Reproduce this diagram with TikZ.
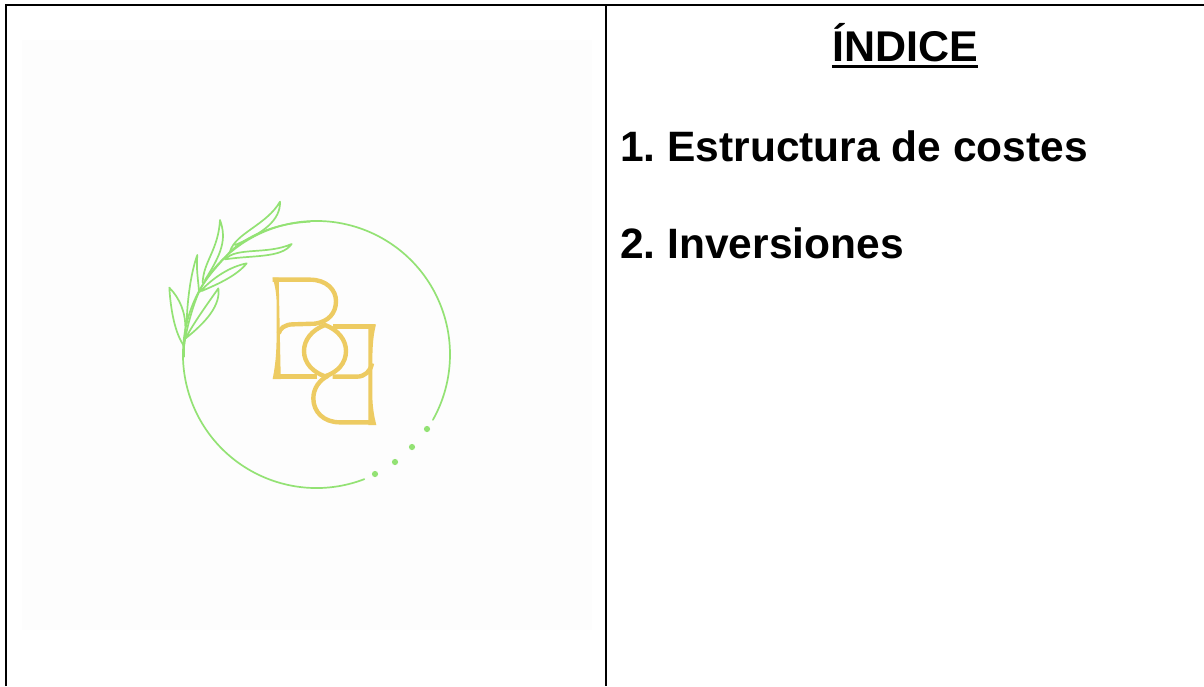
\documentclass[tikz,border=0pt]{standalone}
\usepackage{fontspec}
\setmainfont{Liberation Sans}
\frenchspacing
\definecolor{leafgreen}{HTML}{93E274}
\definecolor{logogold}{HTML}{EDCB62}
\definecolor{paleback}{HTML}{FDFDFD}
\tikzset{
  rulebar/.style={draw=black,line width=2.5pt},
  leafline/.style={draw=leafgreen,line width=1.7pt,line join=round,line cap=round},
  goldline/.style={draw=logogold,line width=4.4pt,line join=miter},
  dotmark/.style={fill=leafgreen,draw=none},
  indexline/.style={anchor=base west,inner sep=0pt,font=\fontsize{42.5}{42.5}\selectfont\bfseries}
}
\begin{document}
\begin{tikzpicture}[x=1pt,y=-1pt]
\useasboundingbox (0,0) rectangle (1204,686);
\fill[white] (0,0) rectangle (1204,686);
\fill[paleback] (22,40) rectangle (592,630);
% frame
\draw[rulebar] (6.2,686) -- (6.2,5.2) -- (1204,5.2);
\draw[rulebar] (606.2,5.2) -- (606.2,686);
% texts
\node[indexline,anchor=base,font=\fontsize{43}{43}\selectfont\bfseries] (title) at (905,61.5) {ÍNDICE};
\draw[line width=2.8pt] (title.base west |- 0,66.5) -- (title.base east |- 0,66.5);
\node[indexline] (item1) at (620,161) {1. Estructura de costes};
\node[indexline] (item2) at (620,258) {2. Inversiones};
% circle with gap
\draw[leafline] (316.5,354.5) ++(69:133.5) arc[start angle=69,end angle=389.3,radius=133.5];
% dots
\foreach \px/\py in {375/474, 395/462, 412/447, 427/429}{
  \fill[dotmark] (\px,\py) circle[radius=3.1];
}
% branch and leaves (zoom coordinates)
\begin{scope}[shift={(150,190)},x=0.33333pt,y=-0.33333pt]
  \draw[leafline] (102,500) -- (102,470) .. controls (108,420) and (130,340) .. (150,300)
     .. controls (170,260) and (210,220) .. (240,185) .. controls (290,140) and (370,100) .. (480,95);
  % leaf 1
  \draw[leafline] (102,468) .. controls (75,430) and (62,360) .. (58,293)
     .. controls (90,325) and (108,370) .. (106,420) -- (102,468);
  % leaf 2
  \draw[leafline] (110,400) .. controls (112,320) and (125,240) .. (142,195)
     .. controls (138,240) and (145,270) .. (147,305);
  % leaf 3
  \draw[leafline] (107,445) .. controls (130,400) and (170,345) .. (205,295)
     .. controls (212,345) and (170,395) .. (107,445);
  % leaf 4
  \draw[leafline] (158,278) .. controls (160,215) and (205,180) .. (210,90)
     .. controls (232,150) and (212,195) .. (165,270);
  % leaf 5
  \draw[leafline] (150,305) .. controls (190,262) and (240,230) .. (290,220)
     .. controls (262,255) and (210,280) .. (155,303);
  % leaf 6
  \draw[leafline] (225,208) .. controls (260,170) and (350,195) .. (425,162)
     .. controls (395,205) and (310,195) .. (225,208);
  % leaf 7
  \draw[leafline] (240,185) .. controls (255,130) and (350,105) .. (390,35)
     .. controls (392,90) and (340,130) .. (255,165);
\end{scope}
% monogram (zoom coordinates)
\begin{scope}[shift={(260,265)},x=0.33333pt,y=-0.33333pt]
  \draw[goldline] (38,44) -- (150,44) .. controls (200,44) and (228,75) .. (228,108)
     .. controls (228,145) and (205,170) .. (165,176) -- (100,178)
     .. controls (75,178) and (60,190) .. (56,205);
  \fill[logogold] (38,38) -- (56,38) -- (62,330) -- (62,342) -- (38,342) .. controls (46,300) and (50,270) .. (50,190)
     -- (50,120) .. controls (50,90) and (46,65) .. (38,38) -- cycle;
  \draw[goldline] (45,335) -- (172,335);
  \draw[goldline] (218,335) -- (290,335) .. controls (315,335) and (332,318) .. (336,295);
  \draw[goldline] (220,184) -- (345,184);
  \fill[logogold] (325,178) -- (348,178) .. controls (340,210) and (337,240) .. (337,300)
     -- (337,390) .. controls (337,420) and (342,455) .. (349,480) -- (325,480) -- cycle;
  \draw[goldline] (345,472) -- (240,472) .. controls (190,472) and (160,440) .. (160,400)
     .. controls (160,370) and (178,345) .. (205,332);
  \draw[goldline] (195,180) .. controls (155,195) and (132,225) .. (132,258)
     .. controls (132,295) and (160,322) .. (195,334)
     .. controls (232,322) and (258,295) .. (258,258)
     .. controls (258,225) and (235,195) .. (195,180) -- cycle;
\end{scope}
\end{tikzpicture}
\end{document}
